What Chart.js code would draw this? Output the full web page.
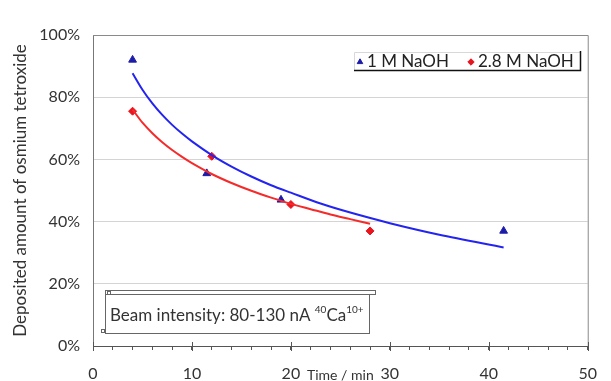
<!DOCTYPE html>
<html><head><meta charset="utf-8">
<script src="https://cdn.jsdelivr.net/npm/chart.js@4/dist/chart.umd.min.js"></script>
<style>html,body{margin:0;padding:0;background:#fff}#wrap{width:611px;height:381px}</style>
</head><body><div id="wrap"><canvas id="c" width="611" height="381"></canvas></div>
<script>
// ---- data ----
const seriesNames = ['1 M NaOH', '2.8 M NaOH'];
const time1M = [4, 11.5, 19, 41.5];
const dep1M = [92, 55.5, 47, 37];
const time28M = [4, 12, 20, 28];
const dep28M = [75.5, 61, 45.5, 37];
// fitted trend curves
const trendTime1M = [4, 5, 6, 7, 8, 9, 10, 12, 14, 16, 18, 20, 23, 26, 30, 35, 41.5];
const trendDep1M = [87.7, 82.4, 78, 74.3, 71.1, 68.3, 65.8, 61.4, 57.7, 54.5, 51.7, 49.3, 45.8, 42.9, 39.5, 35.8, 31.7];
const trendTime28M = [4, 5, 6, 7, 8, 9, 10, 12, 14, 16, 18, 20, 22, 24, 26, 28];
const trendDep28M = [76, 71.8, 68.4, 65.5, 63, 60.8, 58.8, 55.3, 52.4, 49.9, 47.7, 45.7, 44, 42.3, 40.8, 39.3];
const yTickValues = [0, 20, 40, 60, 80, 100];
const xTickValues = [0, 10, 20, 30, 40, 50];
const xAxisTitle = 'Time / min';
const yAxisTitle = 'Deposited amount of osmium tetroxide';
const noteText = 'Beam intensity: 80-130 nA ';
const noteIsotope = '40';
const noteElement = 'Ca';
const noteCharge = '10+';

const FONT = 'Lato, "Open Sans", sans-serif';
const pts = (xs, ys) => xs.map((x, i) => ({x, y: ys[i]}));
const colors = {
  m1: '#1c1ca8', m2: '#e8141e', l1: '#2424f0', l2: '#f52a2a'
};

const datasets = [
  {label: seriesNames[0], data: pts(trendTime1M, trendDep1M), showLine: true, borderColor: colors.l1,
   borderWidth: 2, pointRadius: 0, tension: 0.3, fill: false, legendHide: true},
  {label: seriesNames[1], data: pts(trendTime28M, trendDep28M), showLine: true, borderColor: colors.l2,
   borderWidth: 2, pointRadius: 0, tension: 0.3, fill: false, legendHide: true},
  {label: seriesNames[0], data: pts(time1M, dep1M), showLine: false, pointStyle: 'triangle',
   pointRadius: 4.5, backgroundColor: colors.m1, borderColor: colors.m1, borderWidth: 1},
  {label: seriesNames[1], data: pts(time28M, dep28M), showLine: false, pointStyle: 'rectRot',
   pointRadius: 4, backgroundColor: colors.m2, borderColor: colors.m2, borderWidth: 1}
];

const framePlugin = {
  id: 'frame',
  afterDatasetsDraw(chart) {
    const {ctx, chartArea: a, scales} = chart;
    ctx.save();
    ctx.lineWidth = 1;
    ctx.strokeStyle = '#8a8a8a';
    ctx.beginPath();
    ctx.moveTo(a.left, a.top + 0.5); ctx.lineTo(a.right + 0.5, a.top + 0.5);
    ctx.lineTo(a.right + 0.5, a.bottom);
    ctx.stroke();
    ctx.strokeStyle = '#555';
    xTickValues.forEach(v => {
      const x = Math.round(scales.x.getPixelForValue(v)) + 0.5;
      ctx.beginPath(); ctx.moveTo(x, a.bottom - 4); ctx.lineTo(x, a.bottom + 5); ctx.stroke();
    });
    ctx.restore();
  },
  afterDraw(chart) {
    const {ctx} = chart;
    ctx.save();
    // ---- legend box ----
    const lx = 354, ly = 52, lw = 226, lh = 18;
    ctx.fillStyle = '#fff';
    ctx.fillRect(lx, ly, lw, lh);
    ctx.strokeStyle = '#d8d8d8';
    ctx.lineWidth = 1;
    ctx.beginPath(); ctx.moveTo(lx + 0.5, ly + lh); ctx.lineTo(lx + 0.5, ly + 0.5); ctx.lineTo(lx + lw, ly + 0.5); ctx.stroke();
    ctx.strokeStyle = '#111';
    ctx.lineWidth = 1.5;
    ctx.beginPath(); ctx.moveTo(lx, ly + lh + 0.5); ctx.lineTo(lx + lw + 0.5, ly + lh + 0.5); ctx.lineTo(lx + lw + 0.5, ly - 1); ctx.stroke();
    ctx.font = '17px ' + FONT;
    ctx.textBaseline = 'middle';
    const cy = ly + lh / 2 + 1;
    const markers = chart.data.datasets.filter(d => !d.legendHide);
    const markerX = [lx + 6, lx + 117];
    markers.forEach((d, i) => {
      const x = markerX[i];
      ctx.fillStyle = d.backgroundColor; ctx.strokeStyle = d.borderColor; ctx.lineWidth = 1;
      Chart.helpers.drawPoint(ctx, {pointStyle: d.pointStyle, radius: 3.2, rotation: 0, borderWidth: 1}, x, cy);
      ctx.fillStyle = '#222';
      ctx.fillText(d.label, x + 7, cy);
    });
    // ---- beam note box ----
    const bx = 105, by = 290, bw = 270;
    ctx.strokeStyle = '#666'; ctx.lineWidth = 1;
    ctx.strokeRect(bx + 0.5, by + 0.5, bw, 4);
    ctx.fillStyle = '#fff';
    ctx.fillRect(bx + 1, by + 5, 264, 38);
    ctx.strokeRect(bx + 0.5, by + 4.5, 264, 39);
    ctx.strokeRect(bx + 2.5, by + 1.5, 3, 3);
    ctx.strokeRect(bx - 3.5, by + 39.5, 3, 3);
    ctx.fillStyle = '#333';
    ctx.textBaseline = 'alphabetic';
    ctx.font = '17px ' + FONT;
    let tx = bx + 5;
    const base = by + 31;
    ctx.fillText(noteText, tx, base); tx += ctx.measureText(noteText).width;
    ctx.font = '10px ' + FONT;
    ctx.fillText(noteIsotope, tx, base - 8); tx += ctx.measureText(noteIsotope).width;
    ctx.font = '17px ' + FONT;
    ctx.fillText(noteElement, tx, base); tx += ctx.measureText(noteElement).width;
    ctx.font = '10px ' + FONT;
    ctx.fillText(noteCharge, tx, base - 8);
    ctx.restore();
  }
};

new Chart(document.getElementById('c'), {
  type: 'scatter',
  data: {datasets},
  options: {
    responsive: false,
    animation: false,
    devicePixelRatio: 1,
    layout: {padding: {left: 0, right: 11, top: 35, bottom: 0}},
    plugins: {legend: {display: false}, tooltip: {enabled: false}},
    scales: {
      x: {
        type: 'linear', min: 0, max: 50,
        afterFit(s) { s.height = 35; },
        afterBuildTicks(s) { const t = []; for (let v = 0; v <= 50; v += 2) t.push({value: v}); s.ticks = t; },
        ticks: {
          autoSkip: false, maxRotation: 0, padding: 14, color: '#333',
          font: {family: FONT, size: 16},
          callback: v => xTickValues.includes(v) ? String(v) : ''
        },
        grid: {drawOnChartArea: false, drawTicks: true, tickLength: 4, color: '#555'},
        border: {display: true, color: '#555', width: 1},
        title: {display: true, text: xAxisTitle, color: '#333', font: {family: FONT, size: 14}, padding: {top: 0, bottom: -3}}
      },
      y: {
        type: 'linear', min: 0, max: 100,
        afterFit(s) { s.width = 93; },
        afterBuildTicks(s) { s.ticks = yTickValues.map(v => ({value: v})); },
        ticks: {padding: 13, color: '#333', font: {family: FONT, size: 16}, callback: v => v + '%'},
        grid: {drawTicks: false, color: c => (c.tick && c.tick.value > 0 && c.tick.value < 100) ? '#d4d4d4' : 'rgba(0,0,0,0)'},
        border: {display: true, color: '#777', width: 1},
        title: {display: true, text: yAxisTitle, color: '#333', font: {family: FONT, size: 17}, padding: {top: 10, bottom: 0}}
      }
    }
  },
  plugins: [framePlugin]
});
</script>
</body></html>
